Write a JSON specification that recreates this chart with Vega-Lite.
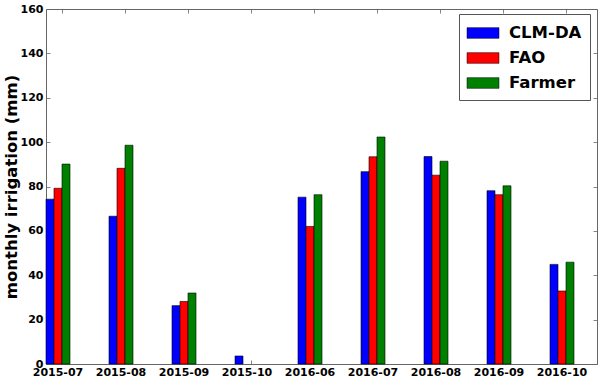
{
  "$schema": "https://vega.github.io/schema/vega-lite/v6.json",
  "width": 551,
  "height": 355,
  "autosize": {"type": "none"},
  "padding": {"left": 46, "top": 9, "right": 3, "bottom": 17},
  "data": {
    "values": [
      {"month": "2015-07", "source": "CLM-DA", "value": 74.3},
      {"month": "2015-07", "source": "FAO", "value": 79.2},
      {"month": "2015-07", "source": "Farmer", "value": 90.1},
      {"month": "2015-08", "source": "CLM-DA", "value": 66.6},
      {"month": "2015-08", "source": "FAO", "value": 88.2},
      {"month": "2015-08", "source": "Farmer", "value": 98.6},
      {"month": "2015-09", "source": "CLM-DA", "value": 26.3},
      {"month": "2015-09", "source": "FAO", "value": 28.2},
      {"month": "2015-09", "source": "Farmer", "value": 32.0},
      {"month": "2015-10", "source": "CLM-DA", "value": 3.6},
      {"month": "2015-10", "source": "FAO", "value": 0},
      {"month": "2015-10", "source": "Farmer", "value": 0},
      {"month": "2016-06", "source": "CLM-DA", "value": 75.2},
      {"month": "2016-06", "source": "FAO", "value": 62.0},
      {"month": "2016-06", "source": "Farmer", "value": 76.3},
      {"month": "2016-07", "source": "CLM-DA", "value": 86.7},
      {"month": "2016-07", "source": "FAO", "value": 93.4},
      {"month": "2016-07", "source": "Farmer", "value": 102.3},
      {"month": "2016-08", "source": "CLM-DA", "value": 93.5},
      {"month": "2016-08", "source": "FAO", "value": 85.1},
      {"month": "2016-08", "source": "Farmer", "value": 91.4},
      {"month": "2016-09", "source": "CLM-DA", "value": 78.1},
      {"month": "2016-09", "source": "FAO", "value": 76.3},
      {"month": "2016-09", "source": "Farmer", "value": 80.3},
      {"month": "2016-10", "source": "CLM-DA", "value": 44.9},
      {"month": "2016-10", "source": "FAO", "value": 32.9},
      {"month": "2016-10", "source": "Farmer", "value": 45.9}
    ]
  },
  "config": {
    "font": "DejaVu Sans",
    "view": {"stroke": "#666", "strokeWidth": 1},
    "axis": {
      "grid": false,
      "domain": false,
      "tickColor": "#666",
      "tickSize": -4,
      "tickWidth": 0.8,
      "labelFont": "DejaVu Sans",
      "labelColor": "#000",
      "labelFontWeight": "bold",
      "labelFontSize": 11,
      "titleFont": "DejaVu Sans",
      "titleColor": "#000",
      "titleFontWeight": "bold"
    },
    "legend": {"labelFont": "DejaVu Sans"}
  },
  "layer": [
    {
      "mark": {"type": "bar", "stroke": "#000"},
      "encoding": {
        "x": {
          "field": "month", "type": "nominal", "sort": null,
          "scale": {"paddingInner": 0.619, "paddingOuter": 0.1825, "align": 0},
          "axis": {"orient": "bottom", "title": null, "labelAngle": 0, "bandPosition": 0.667, "labelPadding": 6}
        },
        "xOffset": {
          "field": "source", "type": "nominal", "sort": ["CLM-DA", "FAO", "Farmer"],
          "scale": {"paddingInner": 0, "paddingOuter": 0}
        },
        "y": {
          "field": "value", "type": "quantitative",
          "scale": {"domain": [0, 160], "nice": false},
          "axis": {"orient": "left", "values": [0, 20, 40, 60, 80, 100, 120, 140, 160], "title": "monthly irrigation (mm)", "titleFontSize": 16.5, "titlePadding": 1, "labelPadding": 7}
        },
        "strokeWidth": {"condition": {"test": "datum.value == 0", "value": 0}, "value": 0.6},
        "color": {
          "field": "source", "type": "nominal",
          "scale": {"domain": ["CLM-DA", "FAO", "Farmer"], "range": ["#0000ff", "#ff0000", "#008000"]},
          "legend": {
            "orient": "none", "legendX": 413, "legendY": 5, "title": null,
            "symbolType": "M-1.5,-0.5H1.5V0.5H-1.5Z", "symbolSize": 455,
            "symbolStrokeColor": "#000", "symbolStrokeWidth": 0.5, "symbolOpacity": 1,
            "labelFontSize": 16.5, "labelFontWeight": "bold", "labelColor": "#000",
            "strokeColor": "#555", "fillColor": "#fff", "padding": 8, "rowPadding": 5,
            "labelOffset": 15, "symbolOffset": 5
          }
        }
      }
    },
    {
      "mark": {"type": "bar", "opacity": 0},
      "encoding": {
        "x": {
          "field": "month", "type": "nominal", "sort": null,
          "axis": {"orient": "top", "title": null, "labels": false, "bandPosition": 0.667}
        },
        "xOffset": {"field": "source", "type": "nominal", "sort": ["CLM-DA", "FAO", "Farmer"]},
        "y": {
          "field": "value", "type": "quantitative",
          "axis": {"orient": "right", "values": [0, 20, 40, 60, 80, 100, 120, 140, 160], "title": null, "labels": false}
        }
      }
    }
  ],
  "resolve": {"axis": {"x": "independent", "y": "independent"}}
}
